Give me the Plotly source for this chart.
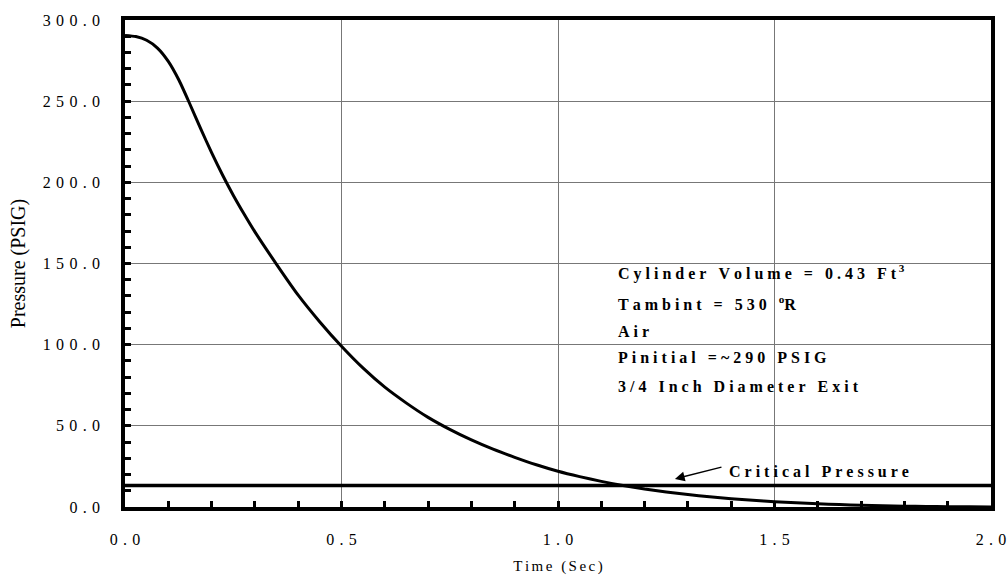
import plotly.graph_objects as go

# Blow-down of an air cylinder through a 3/4 inch exit: gauge pressure vs time
time_s = [0.000, 0.025, 0.050, 0.075, 0.100, 0.125, 0.150, 0.175, 0.200, 0.225,
          0.250, 0.275, 0.300, 0.350, 0.400, 0.450,
          0.50, 0.55, 0.60, 0.65, 0.70, 0.75, 0.80, 0.85, 0.90, 0.95,
          1.00, 1.05, 1.10, 1.15, 1.20, 1.25, 1.30, 1.35, 1.40, 1.45,
          1.50, 1.55, 1.60, 1.65, 1.70, 1.75, 1.80, 1.85, 1.90, 1.95, 2.00]
pressure_psig = [290.5, 289.8, 287.5, 282.7, 274.5, 262.7, 248.1, 232.9, 218.3, 204.7,
                 192.1, 180.5, 169.5, 149.5, 130.5, 114.0,
                 99.0, 85.5, 73.8, 64.0, 55.2, 47.8, 41.3, 35.6, 30.6, 26.0,
                 22.0, 18.7, 15.8, 13.3, 11.1, 9.3, 7.7, 6.3, 5.1, 4.1,
                 3.3, 2.6, 2.0, 1.5, 1.1, 0.8, 0.5, 0.35, 0.2, 0.1, 0.05]

critical_pressure = 13.3
critical_span = [0.0, 2.0]

x_tick_vals = [0.0, 0.5, 1.0, 1.5, 2.0]
x_tick_labels = ["0.0", "0.5", "1.0", "1.5", "2.0"]
y_tick_vals = [0, 50, 100, 150, 200, 250, 300]
y_tick_labels = ["0.0", "50.0", "100.0", "150.0", "200.0", "250.0", "300.0"]

info_lines = [
    "Cylinder Volume = 0.43 Ft",
    "Tambint = 530 ",
    "Air",
    "Pinitial =~290 PSIG",
    "3/4 Inch Diameter Exit",
]
info_suffix = ["\u2006<sup>3</sup>", "\u2005<sup>o</sup>R", "", "", ""]
info_y = [144.5, 125.5, 108.0, 92.0, 74.5]

SERIF = "Liberation Serif"


def spread(text, gap):
    """Space out letters to mimic tracked typesetting."""
    return gap.join(text)


fig = go.Figure()

fig.add_trace(go.Scatter(
    x=time_s, y=pressure_psig, mode="lines",
    line=dict(color="black", width=3, shape="spline", smoothing=0.6,
              simplify=False),
    hoverinfo="skip", showlegend=False,
))

fig.add_trace(go.Scatter(
    x=critical_span, y=[critical_pressure, critical_pressure], mode="lines",
    line=dict(color="black", width=3.5),
    hoverinfo="skip", showlegend=False,
))

tick_gap = "\u2004"
axis_common = dict(
    showline=True, linecolor="black", linewidth=3.5, mirror=True,
    showgrid=True, gridcolor="#777777", gridwidth=1,
    ticks="inside", ticklen=6, tickwidth=2.5, tickcolor="black",
    tickfont=dict(family=SERIF, size=16, color="black"),
    zeroline=False, automargin=False,
)

fig.update_xaxes(
    range=[0, 2], tickmode="array", tickvals=x_tick_vals,
    ticktext=[spread(t, tick_gap) for t in x_tick_labels],
    minor=dict(ticks="inside", dtick=0.1, ticklen=6, tickwidth=2.5,
               tickcolor="black", showgrid=False),
    ticklabelstandoff=15,
    title=dict(text=spread("Time (Sec)", "\u2006"),
               font=dict(family=SERIF, size=15, color="black"), standoff=15),
    **axis_common,
)
fig.update_yaxes(
    range=[0, 300], tickmode="array", tickvals=y_tick_vals,
    ticktext=[spread(t, tick_gap) for t in y_tick_labels],
    minor=dict(ticks="inside", dtick=10, ticklen=6, tickwidth=2.5,
               tickcolor="black", showgrid=False),
    ticklabelstandoff=18,
    title=dict(text="Pressure (PSIG)",
               font=dict(family=SERIF, size=20, color="black"), standoff=13),
    **axis_common,
)

label_font = dict(family=SERIF, size=16, color="black", weight="bold")
for line, suffix, yv in zip(info_lines, info_suffix, info_y):
    fig.add_annotation(
        x=1.135, y=yv, xref="x", yref="y", xanchor="left", yanchor="middle",
        text=spread(line, "\u2005") + suffix, showarrow=False, font=label_font,
    )

# Arrow pointing at the critical pressure line
fig.add_annotation(
    x=1.27, y=17.3, ax=1.381, ay=24.8, xref="x", yref="y", axref="x", ayref="y",
    text="", showarrow=True, arrowhead=2, arrowsize=1.3, arrowwidth=1.5,
    arrowcolor="black",
)
fig.add_annotation(
    x=1.39, y=21.7, xref="x", yref="y", xanchor="left", yanchor="middle",
    text=spread("Critical Pressure", "\u2005"), showarrow=False, font=label_font,
)

fig.update_layout(
    width=1007, height=581,
    margin=dict(l=125, r=16, t=20, b=74),
    paper_bgcolor="white", plot_bgcolor="white",
    font=dict(family=SERIF, color="black"),
    showlegend=False,
)

fig.write_html("out.html")
